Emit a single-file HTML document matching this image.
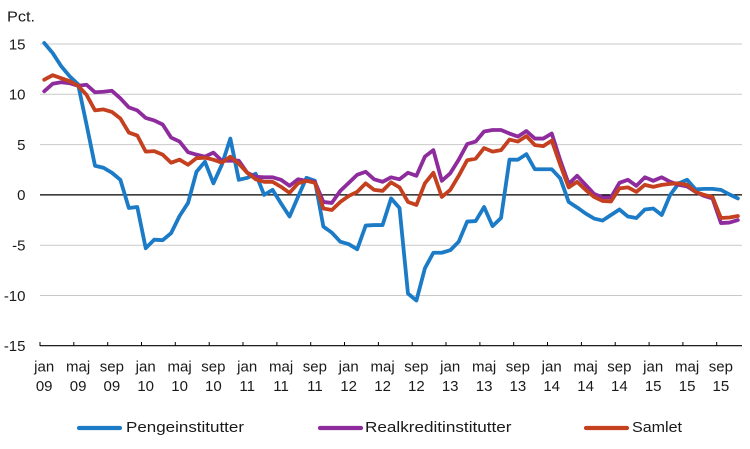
<!DOCTYPE html>
<html>
<head>
<meta charset="utf-8">
<style>
html,body{margin:0;padding:0;background:#fff;}
svg{display:block;}
text{font-family:"Liberation Sans",Arial,sans-serif;fill:#1a1a1a;}
</style>
</head>
<body>
<svg width="750" height="449" viewBox="0 0 750 449" xmlns="http://www.w3.org/2000/svg">
<rect width="750" height="449" fill="#fff"/>
<text x="7" y="21.7" font-size="15" textLength="28" lengthAdjust="spacingAndGlyphs">Pct.</text>
<!-- gridlines -->
<g stroke="#c9c9c9" stroke-width="1">
<line x1="40" y1="44" x2="742" y2="44"/>
<line x1="40" y1="94.3" x2="742" y2="94.3"/>
<line x1="40" y1="144.6" x2="742" y2="144.6"/>
<line x1="40" y1="245.2" x2="742" y2="245.2"/>
<line x1="40" y1="295.5" x2="742" y2="295.5"/>
</g>
<line x1="40" y1="194.9" x2="742" y2="194.9" stroke="#000" stroke-width="1.2"/>
<line x1="40" y1="345.7" x2="742" y2="345.7" stroke="#000" stroke-width="1.2"/>
<g stroke="#000" stroke-width="1">
<line x1="40" y1="342" x2="40" y2="346"/>
<line x1="73.8" y1="342" x2="73.8" y2="346"/>
<line x1="107.7" y1="342" x2="107.7" y2="346"/>
<line x1="141.5" y1="342" x2="141.5" y2="346"/>
<line x1="175.3" y1="342" x2="175.3" y2="346"/>
<line x1="209.2" y1="342" x2="209.2" y2="346"/>
<line x1="243" y1="342" x2="243" y2="346"/>
<line x1="276.9" y1="342" x2="276.9" y2="346"/>
<line x1="310.7" y1="342" x2="310.7" y2="346"/>
<line x1="344.5" y1="342" x2="344.5" y2="346"/>
<line x1="378.4" y1="342" x2="378.4" y2="346"/>
<line x1="412.2" y1="342" x2="412.2" y2="346"/>
<line x1="446" y1="342" x2="446" y2="346"/>
<line x1="479.9" y1="342" x2="479.9" y2="346"/>
<line x1="513.7" y1="342" x2="513.7" y2="346"/>
<line x1="547.5" y1="342" x2="547.5" y2="346"/>
<line x1="581.4" y1="342" x2="581.4" y2="346"/>
<line x1="615.2" y1="342" x2="615.2" y2="346"/>
<line x1="649.1" y1="342" x2="649.1" y2="346"/>
<line x1="682.9" y1="342" x2="682.9" y2="346"/>
<line x1="716.7" y1="342" x2="716.7" y2="346"/>
</g>
<!-- y labels -->
<g font-size="15" text-anchor="end">
<text x="25.5" y="49.3">15</text>
<text x="25.5" y="99.6">10</text>
<text x="25.5" y="149.9">5</text>
<text x="25.5" y="200.2">0</text>
<text x="25.5" y="250.5">-5</text>
<text x="25.5" y="300.8">-10</text>
<text x="25.5" y="351">-15</text>
</g>
<!-- x labels -->
<g font-size="15" text-anchor="middle">
<text x="44.2" y="371.7">jan</text><text x="44.2" y="391">09</text>
<text x="78.1" y="371.7">maj</text><text x="78.1" y="391">09</text>
<text x="111.9" y="371.7">sep</text><text x="111.9" y="391">09</text>
<text x="145.7" y="371.7">jan</text><text x="145.7" y="391">10</text>
<text x="179.6" y="371.7">maj</text><text x="179.6" y="391">10</text>
<text x="213.4" y="371.7">sep</text><text x="213.4" y="391">10</text>
<text x="247.2" y="371.7">jan</text><text x="247.2" y="391">11</text>
<text x="281.1" y="371.7">maj</text><text x="281.1" y="391">11</text>
<text x="314.9" y="371.7">sep</text><text x="314.9" y="391">11</text>
<text x="348.7" y="371.7">jan</text><text x="348.7" y="391">12</text>
<text x="382.6" y="371.7">maj</text><text x="382.6" y="391">12</text>
<text x="416.4" y="371.7">sep</text><text x="416.4" y="391">12</text>
<text x="450.2" y="371.7">jan</text><text x="450.2" y="391">13</text>
<text x="484.1" y="371.7">maj</text><text x="484.1" y="391">13</text>
<text x="517.9" y="371.7">sep</text><text x="517.9" y="391">13</text>
<text x="551.7" y="371.7">jan</text><text x="551.7" y="391">14</text>
<text x="585.6" y="371.7">maj</text><text x="585.6" y="391">14</text>
<text x="619.4" y="371.7">sep</text><text x="619.4" y="391">14</text>
<text x="653.2" y="371.7">jan</text><text x="653.2" y="391">15</text>
<text x="687.1" y="371.7">maj</text><text x="687.1" y="391">15</text>
<text x="720.9" y="371.7">sep</text><text x="720.9" y="391">15</text>
</g>
<!-- series -->
<g transform="translate(44.23,194.9) scale(8.459,-10.06)" fill="none" stroke-linejoin="round" stroke-linecap="round">
<polyline vector-effect="non-scaling-stroke" stroke="#1b7bc6" stroke-width="3.8" points="0,15.1 1,14.1 2,12.8 3,11.8 4,11.0 5,7.0 6,2.9 7,2.7 8,2.2 9,1.5 10,-1.3 11,-1.2 12,-5.3 13,-4.45 14,-4.5 15,-3.8 16,-2.1 17,-0.8 18,2.3 19,3.3 20,1.15 21,3.0 22,5.6 23,1.5 24,1.7 25,2.1 26,0.0 27,0.5 28,-0.85 29,-2.15 30,-0.2 31,1.7 32,1.4 33,-3.15 34,-3.75 35,-4.65 36,-4.9 37,-5.4 38,-3.05 39,-3.0 40,-3.0 41,-0.35 42,-1.3 43,-9.8 44,-10.5 45,-7.3 46,-5.75 47,-5.75 48,-5.5 49,-4.65 50,-2.65 51,-2.6 52,-1.2 53,-3.1 54,-2.3 55,3.5 56,3.5 57,4.05 58,2.55 59,2.55 60,2.55 61,1.65 62,-0.7 63,-1.25 64,-1.85 65,-2.35 66,-2.55 67,-2.0 68,-1.45 69,-2.15 70,-2.3 71,-1.45 72,-1.35 73,-2.0 74,0.0 75,1.15 76,1.5 77,0.55 78,0.6 79,0.6 80,0.5 81,0.05 82,-0.35"/>
<polyline vector-effect="non-scaling-stroke" stroke="#8e2c9d" stroke-width="3.8" points="0,10.3 1,11.05 2,11.2 3,11.1 4,10.85 5,10.95 6,10.2 7,10.25 8,10.35 9,9.6 10,8.7 11,8.4 12,7.65 13,7.4 14,7.0 15,5.7 16,5.3 17,4.25 18,4.0 19,3.8 20,4.2 21,3.4 22,3.4 23,3.4 24,2.2 25,1.8 26,1.75 27,1.75 28,1.5 29,0.9 30,1.55 31,1.4 32,1.3 33,-0.7 34,-0.8 35,0.4 36,1.2 37,2.0 38,2.3 39,1.55 40,1.3 41,1.75 42,1.55 43,2.2 44,1.9 45,3.8 46,4.45 47,1.4 48,2.15 49,3.5 50,5.05 51,5.3 52,6.3 53,6.45 54,6.45 55,6.1 56,5.8 57,6.35 58,5.6 59,5.6 60,6.1 61,3.45 62,1.1 63,1.9 64,1.0 65,0.1 66,-0.25 67,-0.25 68,1.2 69,1.5 70,0.9 71,1.75 72,1.4 73,1.75 74,1.3 75,1.0 76,0.85 77,0.3 78,-0.1 79,-0.35 80,-2.8 81,-2.75 82,-2.5"/>
<polyline vector-effect="non-scaling-stroke" stroke="#c4401f" stroke-width="3.8" points="0,11.45 1,11.9 2,11.6 3,11.3 4,10.85 5,9.95 6,8.4 7,8.5 8,8.25 9,7.6 10,6.2 11,5.9 12,4.3 13,4.35 14,4.0 15,3.2 16,3.5 17,3.0 18,3.65 19,3.7 20,3.5 21,3.2 22,3.8 23,3.1 24,2.2 25,1.55 26,1.3 27,1.3 28,0.8 29,0.2 30,1.15 31,1.4 32,1.2 33,-1.35 34,-1.5 35,-0.7 36,-0.1 37,0.3 38,1.15 39,0.5 40,0.4 41,1.25 42,0.75 43,-0.7 44,-1.0 45,1.15 46,2.2 47,-0.2 48,0.5 49,1.9 50,3.45 51,3.6 52,4.65 53,4.3 54,4.45 55,5.5 56,5.3 57,5.85 58,4.95 59,4.85 60,5.4 61,3.0 62,0.75 63,1.3 64,0.5 65,-0.2 66,-0.6 67,-0.65 68,0.65 69,0.75 70,0.3 71,1.0 72,0.8 73,1.0 74,1.1 75,1.15 76,1.0 77,0.3 78,0.0 79,-0.2 80,-2.3 81,-2.25 82,-2.1"/>
</g>
<!-- legend -->
<g stroke-width="4.2" stroke-linecap="round">
<line x1="79" y1="428" x2="120" y2="428" stroke="#1b7bc6"/>
<line x1="320" y1="428" x2="361" y2="428" stroke="#8e2c9d"/>
<line x1="586" y1="428" x2="627" y2="428" stroke="#c4401f"/>
</g>
<g font-size="15">
<text x="126" y="432" textLength="118" lengthAdjust="spacingAndGlyphs">Pengeinstitutter</text>
<text x="365" y="432" textLength="146.5" lengthAdjust="spacingAndGlyphs">Realkreditinstitutter</text>
<text x="632" y="432" textLength="50" lengthAdjust="spacingAndGlyphs">Samlet</text>
</g>
</svg>
</body>
</html>
